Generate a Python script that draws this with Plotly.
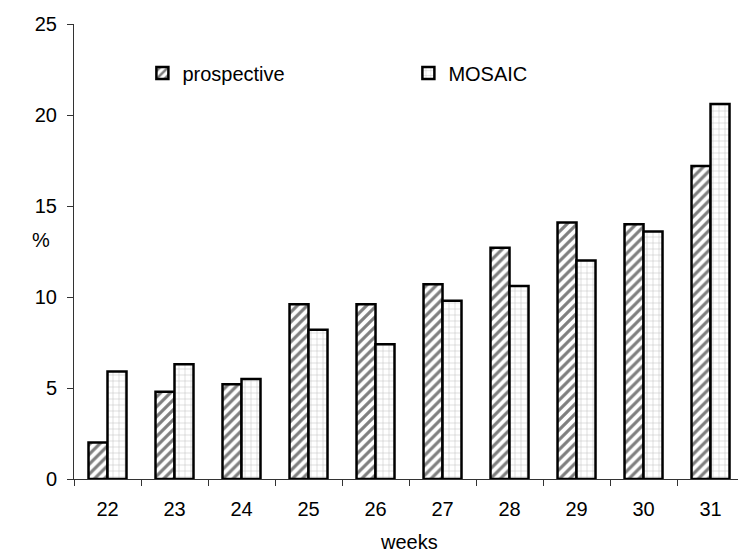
import plotly.graph_objects as go

weeks = ["22", "23", "24", "25", "26", "27", "28", "29", "30", "31"]
prospective = [2.0, 4.8, 5.2, 9.6, 9.6, 10.7, 12.7, 14.1, 14.0, 17.2]
mosaic = [5.9, 6.3, 5.5, 8.2, 7.4, 9.8, 10.6, 12.0, 13.6, 20.6]
y_ticks = [0, 5, 10, 15, 20, 25]

FONT = "Liberation Sans, Arial, sans-serif"
FS = 20

fig = go.Figure()
fig.add_trace(go.Bar(
    name="prospective", x=weeks, y=prospective,
    marker=dict(color="white", line=dict(color="black", width=2.5),
                pattern=dict(shape="/", fgcolor="black", bgcolor="white", size=7, solidity=0.45)),
))
fig.add_trace(go.Bar(
    name="MOSAIC", x=weeks, y=mosaic,
    marker=dict(color="white", line=dict(color="black", width=2.5),
                pattern=dict(shape="+", fgcolor="#333333", bgcolor="white", size=6, solidity=0.1)),
))

fig.update_layout(
    width=738, height=552,
    margin=dict(l=74, r=0, t=24, b=73),
    paper_bgcolor="white", plot_bgcolor="white",
    font=dict(family=FONT, size=FS, color="black"),
    barmode="group", bargap=0.433, bargroupgap=0,
    showlegend=True,
    legend=dict(orientation="h", x=0.103, y=0.935, xanchor="left", yanchor="top",
                entrywidth=221, entrywidthmode="pixels",
                font=dict(family=FONT, size=FS), bgcolor="rgba(0,0,0,0)",
                itemwidth=30, tracegroupgap=0),
    xaxis=dict(type="category", range=[-0.5, 9.41], tickson="boundaries",
               ticks="outside", ticklen=6, tickcolor="#333", showline=True,
               linecolor="#333", linewidth=1, showgrid=False, zeroline=False,
               ticklabelstandoff=12, tickfont=dict(size=FS)),
    yaxis=dict(range=[0, 25], tickvals=y_ticks, ticks="outside", ticklen=6,
               tickcolor="#333", showline=True, linecolor="#333", linewidth=1,
               showgrid=False, zeroline=False, ticklabelstandoff=6,
               tickfont=dict(size=FS)),
    annotations=[
        dict(text="%", xref="paper", yref="paper", x=(41 - 74) / 664, y=(479 - 240) / 455,
             xanchor="center", yanchor="middle", showarrow=False,
             font=dict(size=FS)),
        dict(text="weeks", xref="x", yref="paper", x=4.5, y=-0.138,
             xanchor="center", yanchor="middle", showarrow=False,
             font=dict(size=FS)),
    ],
)

fig.write_html("out.html", config={"displayModeBar": False},
               post_script="document.body.style.margin='0';document.body.style.overflow='hidden';")
